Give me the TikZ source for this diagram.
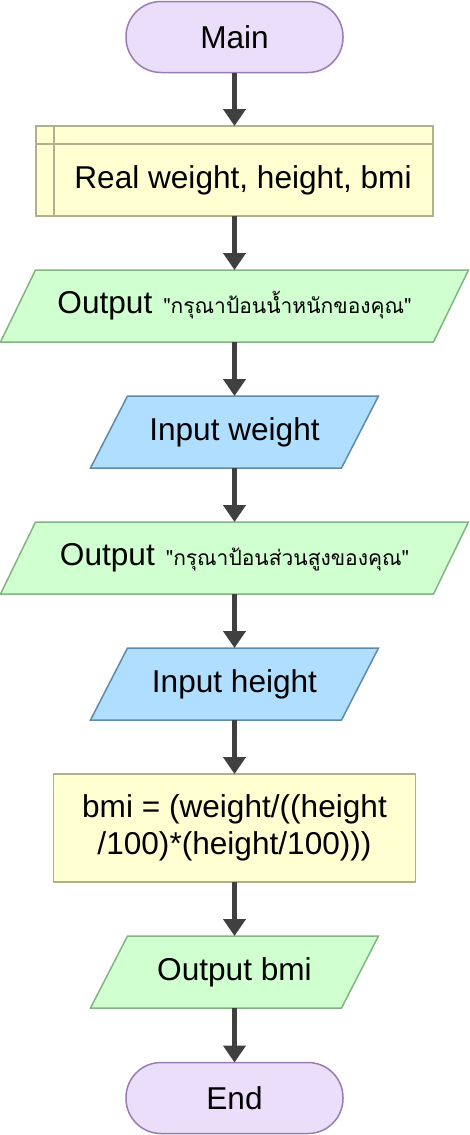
\documentclass[tikz,border=0pt]{standalone}
\usepackage{fontspec}
\setmainfont{Liberation Sans}
\newfontfamily\thaifont[Script=Thai]{Loma}
\usetikzlibrary{arrows.meta,backgrounds}
\definecolor{termfill}{HTML}{EADEFB}
\definecolor{termline}{HTML}{9A7CB2}
\definecolor{declfill}{HTML}{FFFFD1}
\definecolor{declline}{HTML}{B0B08A}
\definecolor{outfill}{HTML}{D0FFD0}
\definecolor{outline}{HTML}{82B482}
\definecolor{infill}{HTML}{B0DEFF}
\definecolor{inline}{HTML}{5E8AAC}
\definecolor{arrcol}{HTML}{404040}
\newcommand\thaitxt[1]{\hspace{11pt}{\thaifont\fontsize{21}{25}\selectfont #1}}
\newcommand\pgram[4]{\filldraw[fill=#3, draw=#4, line width=1.5pt, line join=miter]
  ([xshift=#2]#1.north west) -- (#1.north east) -- ([xshift=-#2]#1.south east) -- (#1.south west) -- cycle;}
\begin{document}
\begin{tikzpicture}[x=1pt,y=-1pt,
  txt/.style={font=\fontsize{31.6}{37}\selectfont, text=black, inner sep=0pt, outer sep=0pt, align=center},
  term/.style={txt, draw=termline, fill=termfill, line width=1.5pt, rounded corners=35pt, minimum width=217pt, minimum height=71pt},
  decl/.style={draw=declline, fill=declfill, line width=1.5pt, inner sep=0pt, outer sep=0pt, minimum width=397pt, minimum height=90pt},
  proc/.style={txt, draw=declline, fill=declfill, line width=1.5pt, minimum width=362pt, minimum height=108pt},
  io/.style={txt, minimum height=72pt},
  arr/.style={draw=arrcol, line width=4.5pt, -{Triangle[width=22pt,length=17pt]}}
]
\useasboundingbox (0,0) rectangle (469,1135);
\node[term] (m) at (234.5,37) {Main};
\node[decl] (d) at (234.5,171) {};
\draw[declline, line width=1.5pt] ([xshift=18pt]d.north west) -- ([xshift=18pt]d.south west);
\draw[declline, line width=1.5pt] ([yshift=-18pt]d.north west) -- ([yshift=-18pt]d.north east);
\node[txt] (dt) at (243,180) {Real weight, height, bmi};
\node[io, minimum width=468pt] (o1) at (234.5,306) {Output\thaitxt{"กรุณาป้อนน้ำหนักของคุณ"}};
\node[io, minimum width=288pt] (i1) at (234.5,432) {Input weight};
\node[io, minimum width=468pt] (o2) at (234.5,558) {Output\thaitxt{"กรุณาป้อนส่วนสูงของคุณ"}};
\node[io, minimum width=288pt] (i2) at (234.5,684) {Input height};
\node[proc] (p) at (234.5,828) {bmi = (weight/((height\\/100)*(height/100)))};
\node[io, minimum width=288pt] (o3) at (234.5,972) {Output bmi};
\node[term] (e) at (234.5,1098) {End};
\begin{scope}[on background layer]
  \pgram{o1}{35pt}{outfill}{outline}
  \pgram{i1}{37pt}{infill}{inline}
  \pgram{o2}{35pt}{outfill}{outline}
  \pgram{i2}{37pt}{infill}{inline}
  \pgram{o3}{37pt}{outfill}{outline}
\end{scope}
\draw[arr] (m) -- (d);
\draw[arr] (d) -- (o1);
\draw[arr] (o1) -- (i1);
\draw[arr] (i1) -- (o2);
\draw[arr] (o2) -- (i2);
\draw[arr] (i2) -- (p);
\draw[arr] (p) -- (o3);
\draw[arr] (o3) -- (e);
\end{tikzpicture}
\end{document}
